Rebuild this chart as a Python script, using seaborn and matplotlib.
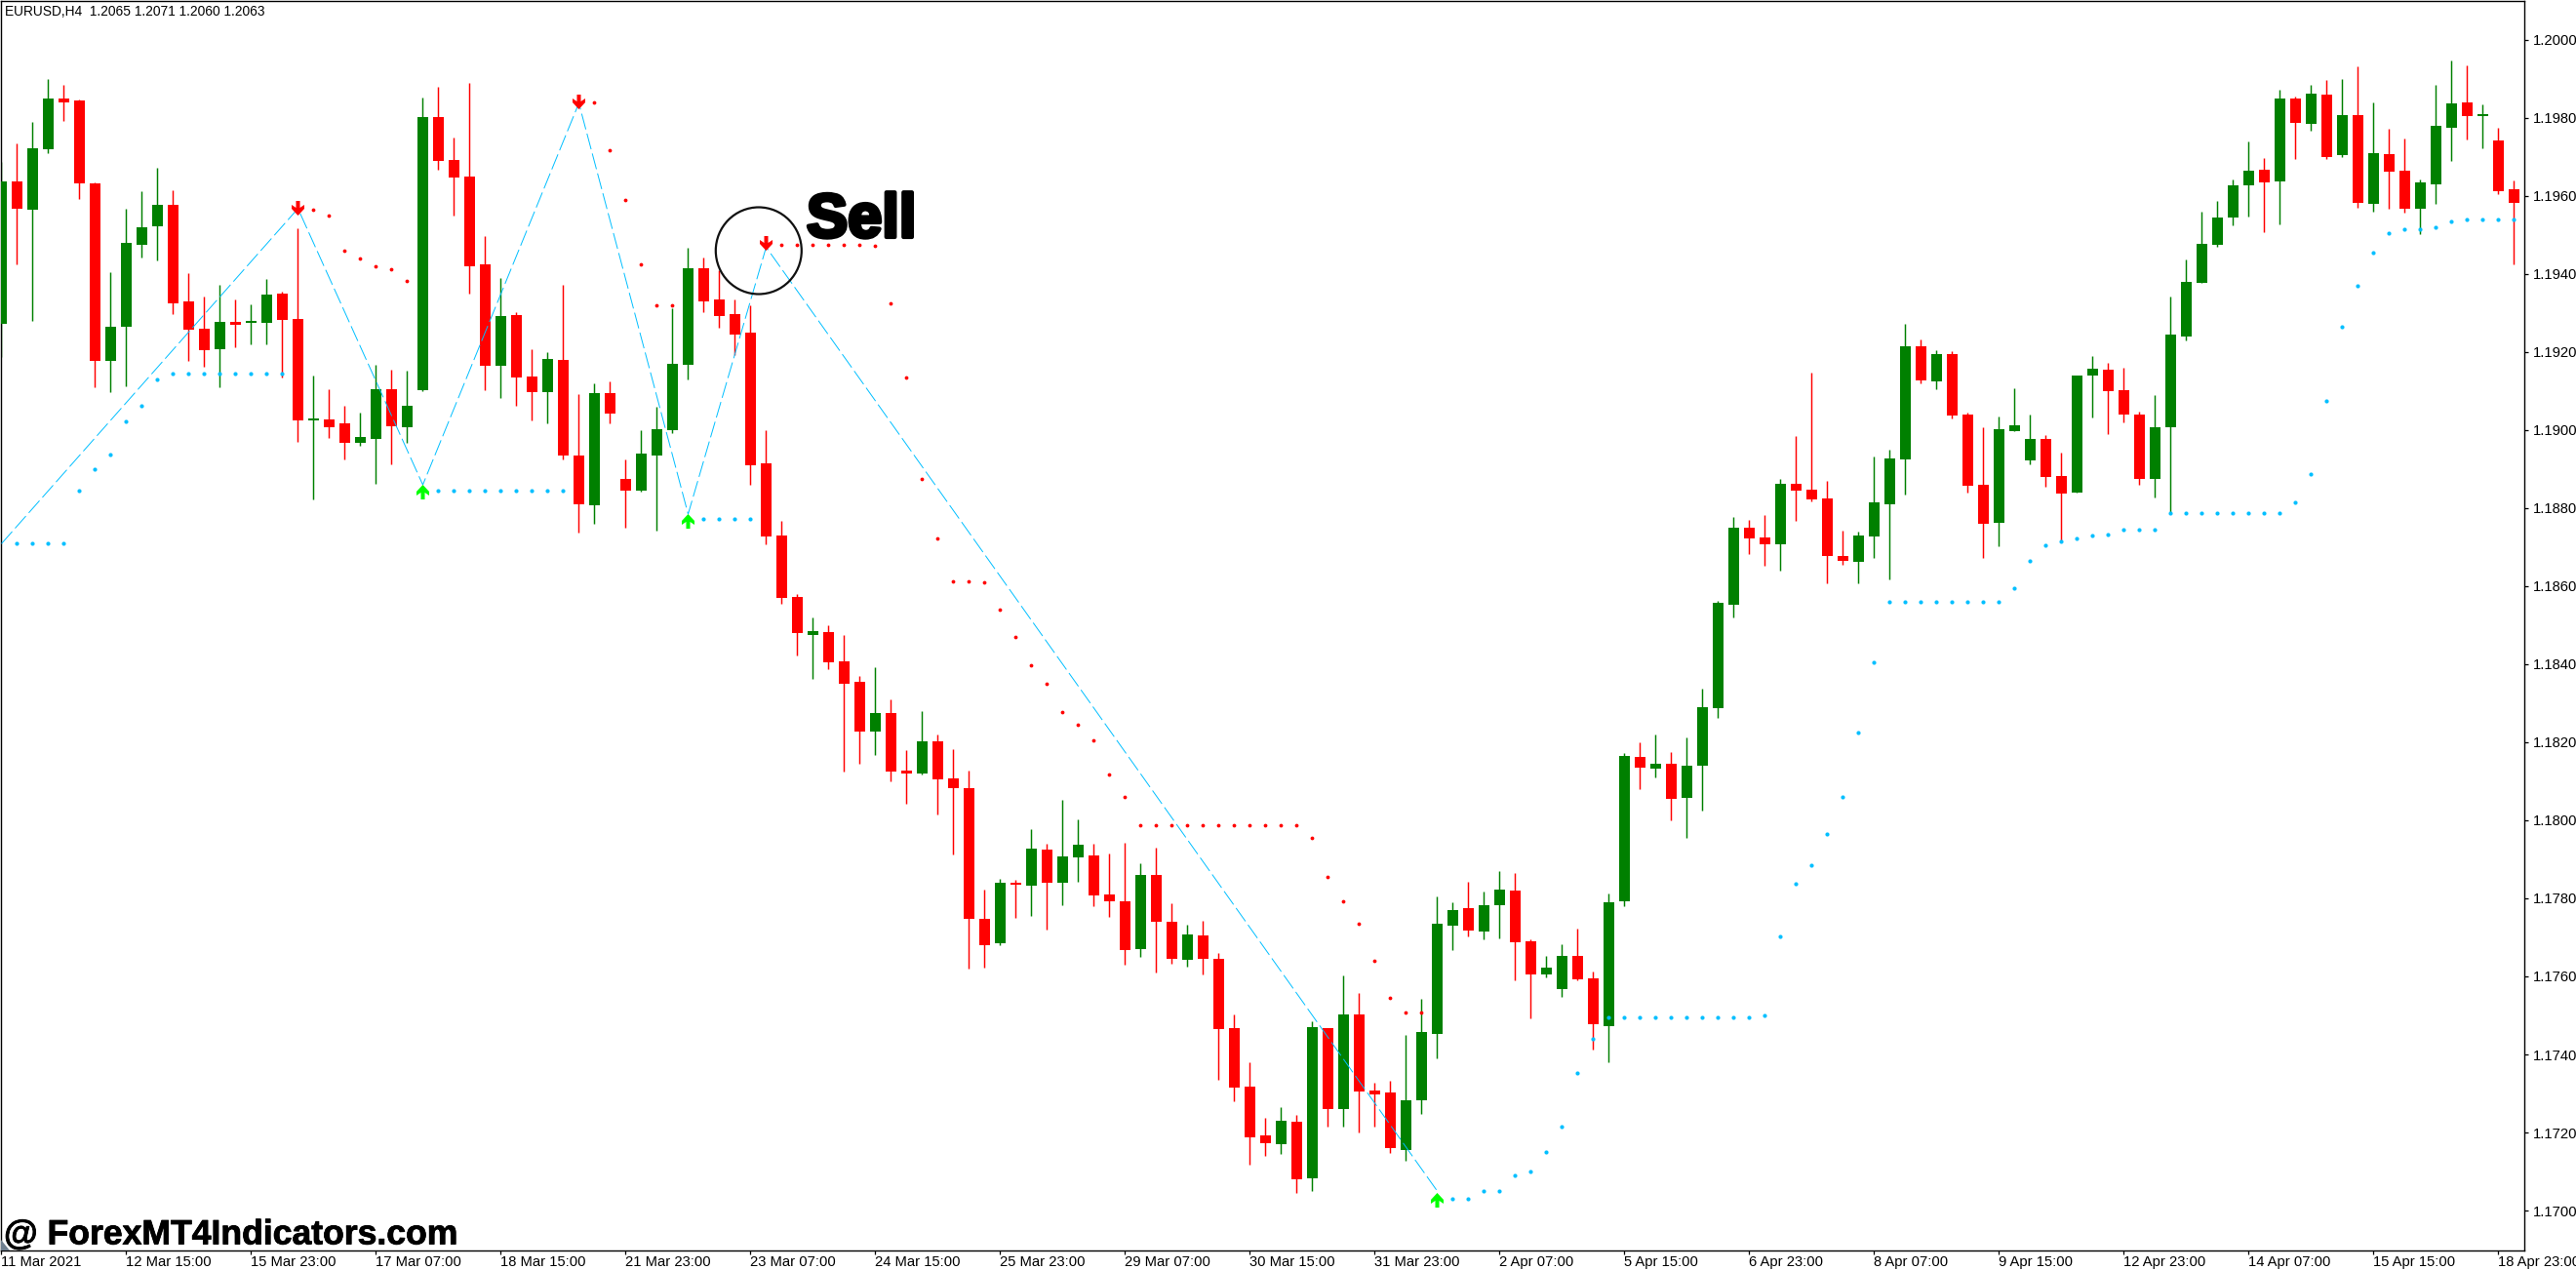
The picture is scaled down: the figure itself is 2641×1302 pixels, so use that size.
import numpy as np
import pandas as pd
import matplotlib
matplotlib.use("Agg")
import matplotlib.pyplot as plt
from matplotlib.patches import Ellipse, Polygon
from matplotlib.path import Path
import matplotlib.patheffects as pe
import seaborn as sns

candles = [
(1.19273,1.19688,1.19188,1.19637),(1.19637,1.19734,1.19425,1.19568),(1.19565,1.19789,1.19280,1.19722),(1.19720,1.19900,1.19710,1.19850),
(1.19850,1.19885,1.19793,1.19840),(1.19845,1.19848,1.19593,1.19632),(1.19632,1.19635,1.19110,1.19177),(1.19177,1.19405,1.19097,1.19265),
(1.19265,1.19568,1.19113,1.19480),(1.19475,1.19612,1.19442,1.19520),(1.19522,1.19672,1.19435,1.19577),(1.19577,1.19615,1.19297,1.19325),
(1.19330,1.19403,1.19177,1.19258),(1.19260,1.19343,1.19163,1.19205),(1.19207,1.19373,1.19110,1.19278),(1.19278,1.19335,1.19212,1.19270),
(1.19275,1.19322,1.19220,1.19280),(1.19275,1.19387,1.19220,1.19347),(1.19350,1.19355,1.19135,1.19282),(1.19285,1.19518,1.18970,1.19025),
(1.19025,1.19140,1.18823,1.19030),(1.19028,1.19104,1.18980,1.19007),(1.19017,1.19062,1.18925,1.18967),(1.18967,1.19045,1.18960,1.18982),
(1.18977,1.19167,1.18862,1.19104),(1.19104,1.19155,1.18912,1.19010),(1.19007,1.19152,1.18967,1.19062),(1.19102,1.19852,1.19100,1.19803),
(1.19803,1.19880,1.19667,1.19690),(1.19692,1.19750,1.19550,1.19647),(1.19650,1.19890,1.19350,1.19420),(1.19425,1.19497,1.19102,1.19165),
(1.19165,1.19390,1.19082,1.19292),(1.19295,1.19302,1.19062,1.19135),(1.19137,1.19207,1.19025,1.19097),(1.19097,1.19200,1.19017,1.19182),
(1.19180,1.19372,1.18925,1.18934),(1.18934,1.19092,1.18737,1.18810),(1.18807,1.19120,1.18760,1.19095),(1.19095,1.19125,1.19017,1.19042),
(1.18875,1.18925,1.18750,1.18845),(1.18845,1.19000,1.18842,1.18940),(1.18935,1.19061,1.18742,1.19002),(1.19000,1.19312,1.18993,1.19170),
(1.19167,1.19467,1.19130,1.19415),(1.19415,1.19442,1.19302,1.19330),(1.19335,1.19410,1.19262,1.19292),(1.19297,1.19335,1.19192,1.19245),
(1.19250,1.19320,1.18860,1.18910),(1.18915,1.19000,1.18707,1.18727),(1.18730,1.18767,1.18555,1.18570),(1.18572,1.18580,1.18422,1.18480),
(1.18475,1.18520,1.18362,1.18485),(1.18482,1.18500,1.18387,1.18405),(1.18407,1.18475,1.18125,1.18350),(1.18355,1.18370,1.18145,1.18227),
(1.18227,1.18392,1.18167,1.18275),(1.18275,1.18310,1.18100,1.18125),(1.18127,1.18180,1.18042,1.18120),(1.18120,1.18280,1.18117,1.18202),
(1.18202,1.18220,1.18015,1.18105),(1.18107,1.18182,1.17912,1.18082),(1.18082,1.18127,1.17620,1.17747),(1.17747,1.17822,1.17622,1.17680),
(1.17685,1.17850,1.17680,1.17840),(1.17840,1.17847,1.17750,1.17835),(1.17832,1.17977,1.17755,1.17927),(1.17925,1.17940,1.17720,1.17840),
(1.17840,1.18052,1.17782,1.17907),(1.17905,1.18002,1.17842,1.17937),(1.17910,1.17940,1.17780,1.17807),(1.17810,1.17915,1.17752,1.17792),
(1.17792,1.17942,1.17630,1.17667),(1.17670,1.17890,1.17650,1.17860),(1.17860,1.17930,1.17610,1.17740),(1.17740,1.17787,1.17632,1.17645),
(1.17642,1.17732,1.17625,1.17707),(1.17705,1.17742,1.17605,1.17645),(1.17645,1.17660,1.17335,1.17465),(1.17467,1.17502,1.17280,1.17315),
(1.17317,1.17380,1.17117,1.17187),(1.17192,1.17237,1.17140,1.17172),(1.17170,1.17265,1.17145,1.17230),(1.17227,1.17245,1.17045,1.17080),
(1.17082,1.17485,1.17050,1.17470),(1.17467,1.17467,1.17215,1.17260),(1.17260,1.17602,1.17215,1.17502),(1.17502,1.17557,1.17200,1.17305),
(1.17307,1.17327,1.17215,1.17297),(1.17302,1.17332,1.17147,1.17160),(1.17155,1.17450,1.17127,1.17282),(1.17282,1.17542,1.17247,1.17457),
(1.17452,1.17805,1.17390,1.17735),(1.17730,1.17790,1.17667,1.17770),(1.17775,1.17842,1.17702,1.17717),(1.17715,1.17817,1.17695,1.17782),
(1.17782,1.17870,1.17697,1.17822),(1.17820,1.17865,1.17590,1.17687),(1.17690,1.17695,1.17492,1.17605),(1.17605,1.17652,1.17597,1.17622),
(1.17567,1.17682,1.17547,1.17652),(1.17652,1.17722,1.17590,1.17592),(1.17595,1.17612,1.17412,1.17477),(1.17472,1.17812,1.17380,1.17790),
(1.17792,1.18172,1.17780,1.18165),(1.18162,1.18200,1.18080,1.18135),(1.18132,1.18220,1.18110,1.18145),(1.18145,1.18175,1.18000,1.18055),
(1.18057,1.18213,1.17955,1.18140),(1.18140,1.18337,1.18025,1.18290),(1.18287,1.18562,1.18262,1.18557),(1.18552,1.18777,1.18520,1.18750),
(1.18750,1.18770,1.18682,1.18722),(1.18725,1.18782,1.18652,1.18707),(1.18707,1.18875,1.18640,1.18862),(1.18862,1.18985,1.18767,1.18845),
(1.18847,1.19147,1.18817,1.18822),(1.18825,1.18870,1.18607,1.18677),(1.18677,1.18742,1.18655,1.18665),(1.18662,1.18740,1.18607,1.18730),
(1.18727,1.18932,1.18672,1.18815),(1.18810,1.18950,1.18617,1.18927),(1.18925,1.19272,1.18835,1.19215),(1.19215,1.19232,1.19120,1.19127),
(1.19125,1.19205,1.19105,1.19195),(1.19195,1.19203,1.19030,1.19037),(1.19040,1.19045,1.18840,1.18857),(1.18860,1.19007,1.18672,1.18760),
(1.18762,1.19035,1.18702,1.19002),(1.18997,1.19107,1.18997,1.19012),(1.18922,1.19040,1.18912,1.18977),(1.18977,1.18987,1.18855,1.18880),
(1.18882,1.18942,1.18713,1.18837),(1.18840,1.19140,1.18840,1.19140),(1.19140,1.19190,1.19032,1.19157),(1.19155,1.19172,1.18990,1.19100),
(1.19102,1.19160,1.19020,1.19040),(1.19040,1.19047,1.18860,1.18875),(1.18875,1.19090,1.18827,1.19007),(1.19007,1.19342,1.18787,1.19245),
(1.19240,1.19437,1.19230,1.19380),(1.19377,1.19560,1.19377,1.19477),(1.19475,1.19587,1.19470,1.19545),(1.19545,1.19642,1.19525,1.19627),
(1.19627,1.19740,1.19547,1.19665),(1.19667,1.19697,1.19507,1.19635),(1.19637,1.19872,1.19527,1.19850),(1.19850,1.19855,1.19695,1.19787),
(1.19785,1.19885,1.19767,1.19862),(1.19860,1.19897,1.19695,1.19700),(1.19705,1.19900,1.19700,1.19807),(1.19807,1.19932,1.19570,1.19582),
(1.19580,1.19840,1.19560,1.19710),(1.19707,1.19772,1.19567,1.19662),(1.19665,1.19747,1.19557,1.19567),(1.19567,1.19642,1.19502,1.19635),
(1.19630,1.19885,1.19580,1.19780),(1.19775,1.19947,1.19690,1.19837),(1.19840,1.19935,1.19745,1.19805),(1.19805,1.19835,1.19722,1.19810),
(1.19742,1.19775,1.19605,1.19612),(1.19617,1.19640,1.19425,1.19582),
]

tick_labels = ["11 Mar 2021","12 Mar 15:00","15 Mar 23:00","17 Mar 07:00","18 Mar 15:00","21 Mar 23:00","23 Mar 07:00",
"24 Mar 15:00","25 Mar 23:00","29 Mar 07:00","30 Mar 15:00","31 Mar 23:00","2 Apr 07:00","5 Apr 15:00","6 Apr 23:00",
"8 Apr 07:00","9 Apr 15:00","12 Apr 23:00","14 Apr 07:00","15 Apr 15:00","18 Apr 23:00"]
price_ticks = [1.2000,1.1980,1.1960,1.1940,1.1920,1.1900,1.1880,1.1860,1.1840,1.1820,1.1800,1.1780,1.1760,1.1740,1.1720,1.1700]

red_bars = [20,21,22,23,24,25,26,38,39,40,41,42,43,50,51,52,53,54,55,56,57,58,59,60,61,62,63,64,65,66,67,68,69,70,71,72,
            73,74,75,76,77,78,79,80,81,82,83,84,85,86,87,88,89,90,91]
red_vals = [1.19566,1.19549,1.19459,1.19439,1.19421,1.19412,1.19382,1.19839,1.19717,1.19591,1.19424,1.19321,1.19321,
            1.19474,1.19474,1.19474,1.19474,1.19474,1.19474,1.19472,1.19325,1.19134,1.18874,1.18722,1.18612,1.18612,1.18610,
            1.18539,1.18470,1.18397,1.18351,1.18277,1.18244,1.18204,1.18117,1.18061,
            1.17987,1.17987,1.17987,1.17987,1.17987,1.17987,1.17987,1.17987,1.17987,1.17987,1.17987,
            1.17956,1.17854,1.17792,1.17734,1.17639,1.17544,1.17507,1.17507]

blue_bars = [1,2,3,4,5,6,7,8,9,10,11,12,13,14,15,16,17,18,28,29,30,31,32,33,34,35,36,45,46,47,48,
             93,94,95,96,97,98,99,100,101,102,103,104,105,106,107,108,109,110,111,112,113,114,115,116,117,118,119,120,
             121,122,123,124,125,126,127,128,129,130,131,132,133,134,135,136,137,138,139,140,141,142,143,144,145,146,147,
             148,149,150,151,152,153,154,155,156,157,158,159,160,161]
blue_vals = [1.18709,1.18709,1.18709,1.18709,1.18846,1.18899,1.18938,1.19023,1.19062,1.19129,1.19144,1.19144,1.19144,1.19144,1.19144,1.19144,1.19144,1.19144,
             1.18846,1.18846,1.18846,1.18846,1.18846,1.18846,1.18846,1.18846,1.18846,1.18772,1.18772,1.18772,1.18772,
             1.17031,1.17031,1.17051,1.17051,1.17091,1.17099,1.17149,1.17214,1.17353,1.17439,1.17494,1.17494,1.17494,1.17494,1.17494,1.17494,1.17494,1.17494,1.17494,1.17494,1.17499,
             1.17702,1.17837,1.17884,1.17966,1.18061,1.18224,1.18404,
             1.18561,1.18561,1.18561,1.18561,1.18561,1.18561,1.18561,1.18561,1.18595,1.18664,1.18706,1.18714,1.18722,1.18729,1.18732,1.18744,1.18744,1.18746,
             1.18787,1.18787,1.18787,1.18787,1.18787,1.18787,1.18787,1.18787,1.18815,
             1.18887,1.19076,1.19264,1.19371,1.19454,1.19504,1.19514,1.19514,1.19521,1.19534,1.19539,1.19539,1.19539,1.19539]

zig_bars = [0,19,27,37,44,49,92]
zig_vals = [1.18709,1.19568,1.18860,1.19838,1.18785,1.19469,1.17050]
sell_bars = [19,37,49]
sell_vals = [1.19569,1.19843,1.19479]
buy_bars = [27,44,92]
buy_vals = [1.18843,1.18768,1.17028]

sns.set_theme(style="white")
plt.rcParams["font.family"] = ["Liberation Sans", "DejaVu Sans"]
plt.rcParams["lines.scale_dashes"] = False

W, H = 2641, 1302
fig = plt.figure(figsize=(W/100, H/100), dpi=100, facecolor="white")
ax = fig.add_axes([1/W, 1-1282/H, 2586.5/W, 1281/H], facecolor="white")

df = pd.DataFrame(candles, columns=["open","high","low","close"])
df["bar"] = np.arange(len(df))
up = df["close"] >= df["open"]
colors = np.where(up, "#008000", "#FF0000")

ax.vlines(df["bar"], df["low"], df["high"], colors=colors, linewidth=1.05, zorder=2)
ax.bar(df["bar"], (df["close"]-df["open"]).abs().clip(lower=0.00004), bottom=df[["open","close"]].min(axis=1),
       width=11/16, color=colors, linewidth=0, zorder=3)

sns.lineplot(x=zig_bars, y=zig_vals, ax=ax, color="#00BFFF", linewidth=0.7, linestyle=(0,(12,3.2)), zorder=4, errorbar=None, sort=False)
sns.scatterplot(x=blue_bars, y=blue_vals, ax=ax, color="#00BFFF", s=9, linewidth=0, zorder=5)
sns.scatterplot(x=red_bars, y=red_vals, ax=ax, color="#FF0000", s=7.5, linewidth=0, zorder=5)

down_verts = [(-2,7.5),(2,7.5),(2,0.5),(6.5,3.5),(6.5,-0.5),(0,-7.5),(-6.5,-0.5),(-6.5,3.5),(-2,0.5),(-2,7.5)]
up_verts = [(x,-y) for x,y in down_verts]
down_mark = Path(down_verts, closed=True)
up_mark = Path(up_verts, closed=True)
ax.scatter(sell_bars, sell_vals, marker=down_mark, s=117, color="#FF0000", linewidths=0, zorder=6)
ax.scatter(buy_bars, buy_vals, marker=up_mark, s=117, color="#00FF00", linewidths=0, zorder=6)

ax.set_xlim(-0.03, 161.625)
ax.set_ylim(1.168975, 1.2010)

ax.add_patch(Ellipse((48.52, 1.19460), width=88/16, height=89/40000, fill=False, edgecolor="#111111", linewidth=1.6, zorder=7))
fig.text(827/W, 1-243/H, "Sell", fontsize=45.5, fontweight="bold", color="black", ha="left", va="baseline",
         path_effects=[pe.withStroke(linewidth=3.0, foreground="black")], zorder=10)
fig.text(4/W, 1-1275.5/H, "@ ForexMT4Indicators.com", fontsize=25.6, fontweight="bold", color="black", ha="left", va="baseline",
         path_effects=[pe.withStroke(linewidth=0.6, foreground="black")], zorder=10)
fig.text(5/W, 1-16/H, "EURUSD,H4  1.2065 1.2071 1.2060 1.2063", fontsize=9.9, color="black", ha="left", va="baseline", zorder=10)

fig.add_artist(Polygon([[1/W, 1-1271/H],[1/W, 1-1282/H],[10/W, 1-1282/H]], closed=True, transform=fig.transFigure, facecolor="#708090", edgecolor="none", zorder=9))

ax.yaxis.tick_right()
ax.set_yticks(price_ticks, [f"{v:.4f}" for v in price_ticks])
ax.set_xticks(np.arange(0, 161, 8), tick_labels, ha="left")
ax.tick_params(axis="y", length=3, width=0.9, color="black", pad=4, labelsize=10.6, labelcolor="black", right=True)
ax.tick_params(axis="x", length=3, width=0.9, color="black", pad=0.5, labelsize=10.6, labelcolor="black", bottom=True)
for s in ax.spines.values():
    s.set_visible(True)
    s.set_color("black")
    s.set_linewidth(1.0)
ax.set_xlabel("")
ax.set_ylabel("")
fig.savefig("out.png", dpi=100, facecolor="white")
